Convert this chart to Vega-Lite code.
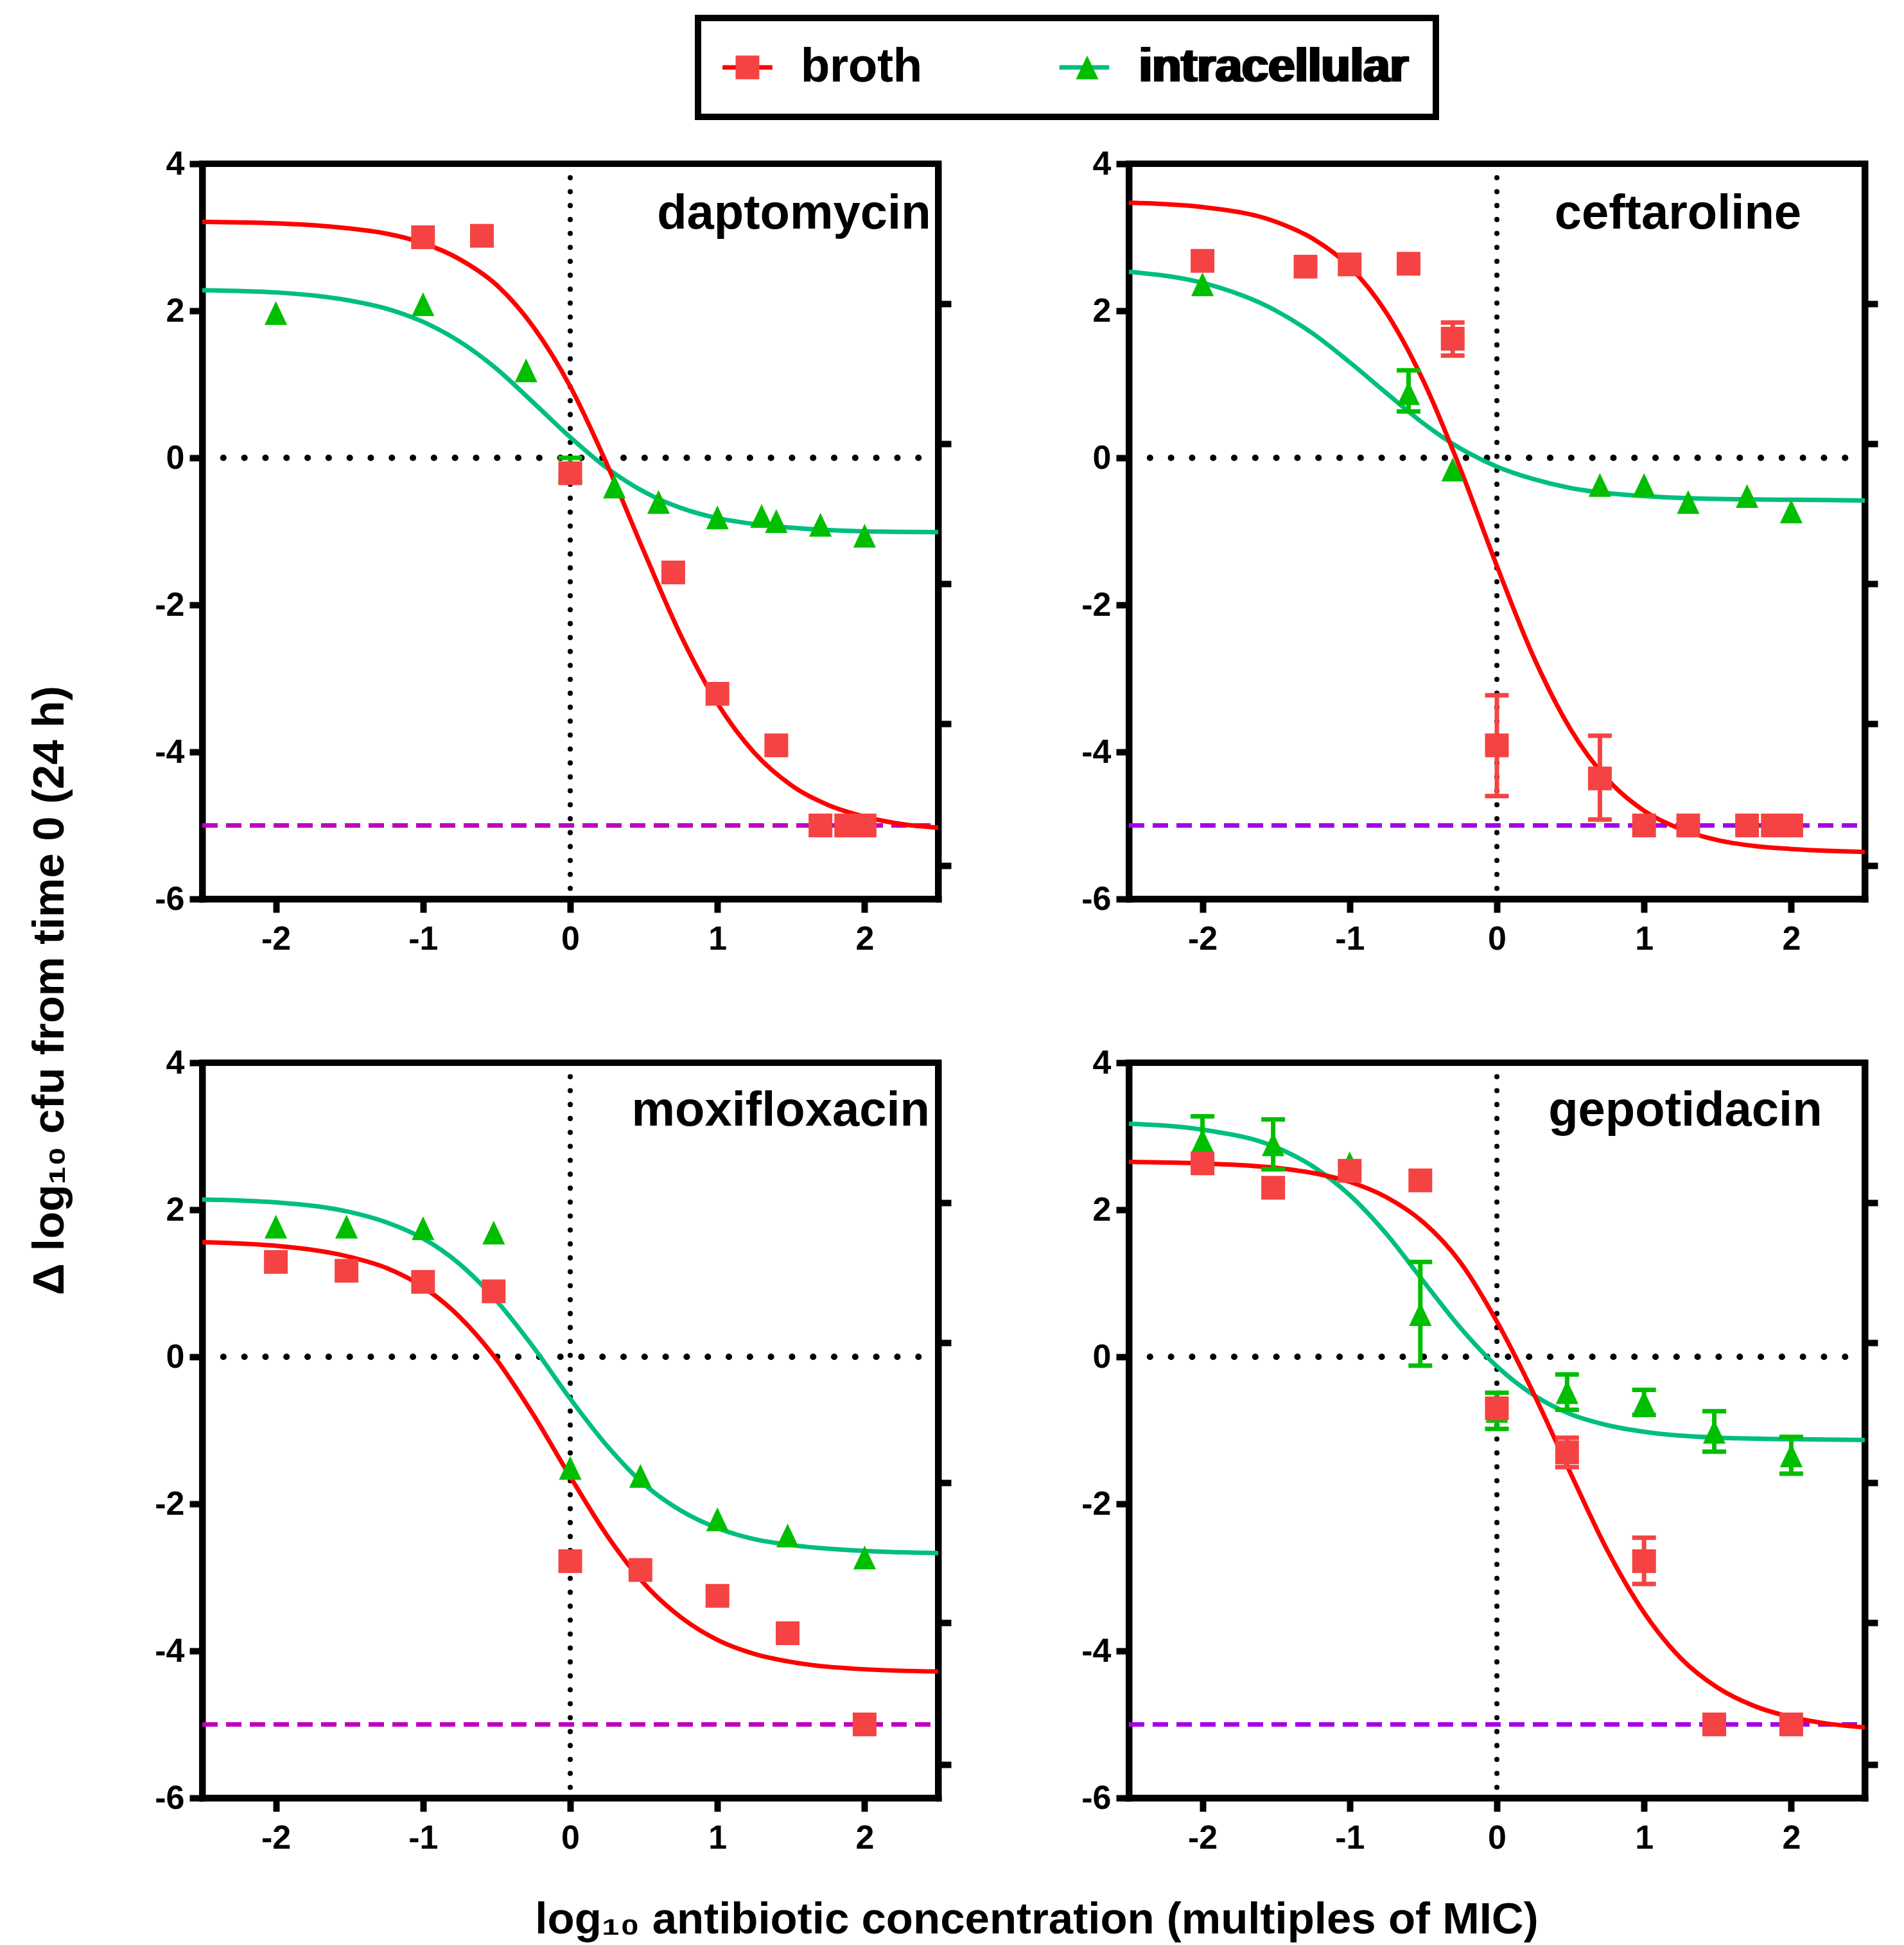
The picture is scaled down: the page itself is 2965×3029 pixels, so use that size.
{
"$schema": "https://vega.github.io/schema/vega-lite/v6.json",
"padding": {"left": 38, "top": 23, "right": 20, "bottom": 0},
"background": "white",
"datasets": {
"points": [
{"drug":"daptomycin","medium":"intracellular","x":-2,"y":1.97},
{"drug":"daptomycin","medium":"intracellular","x":-1,"y":2.09},
{"drug":"daptomycin","medium":"intracellular","x":-0.3,"y":1.19},
{"drug":"daptomycin","medium":"intracellular","x":0,"y":-0.16},
{"drug":"daptomycin","medium":"intracellular","x":0.3,"y":-0.39},
{"drug":"daptomycin","medium":"intracellular","x":0.6,"y":-0.6},
{"drug":"daptomycin","medium":"intracellular","x":1,"y":-0.81},
{"drug":"daptomycin","medium":"intracellular","x":1.3,"y":-0.79},
{"drug":"daptomycin","medium":"intracellular","x":1.4,"y":-0.86},
{"drug":"daptomycin","medium":"intracellular","x":1.7,"y":-0.91},
{"drug":"daptomycin","medium":"intracellular","x":2,"y":-1.06},
{"drug":"daptomycin","medium":"broth","x":-1,"y":3.0},
{"drug":"daptomycin","medium":"broth","x":-0.6,"y":3.02},
{"drug":"daptomycin","medium":"broth","x":0,"y":-0.21},
{"drug":"daptomycin","medium":"broth","x":0.7,"y":-1.56},
{"drug":"daptomycin","medium":"broth","x":1,"y":-3.21},
{"drug":"daptomycin","medium":"broth","x":1.4,"y":-3.91},
{"drug":"daptomycin","medium":"broth","x":1.7,"y":-5.0},
{"drug":"daptomycin","medium":"broth","x":1.875,"y":-5.0},
{"drug":"daptomycin","medium":"broth","x":2,"y":-5.0},
{"drug":"ceftaroline","medium":"intracellular","x":-2,"y":2.36},
{"drug":"ceftaroline","medium":"intracellular","x":-0.6,"y":0.88},
{"drug":"ceftaroline","medium":"intracellular","x":-0.3,"y":-0.16},
{"drug":"ceftaroline","medium":"intracellular","x":0.7,"y":-0.37},
{"drug":"ceftaroline","medium":"intracellular","x":1,"y":-0.37},
{"drug":"ceftaroline","medium":"intracellular","x":1.3,"y":-0.6},
{"drug":"ceftaroline","medium":"intracellular","x":1.7,"y":-0.52},
{"drug":"ceftaroline","medium":"intracellular","x":2,"y":-0.73},
{"drug":"ceftaroline","medium":"broth","x":-2,"y":2.68},
{"drug":"ceftaroline","medium":"broth","x":-1.3,"y":2.6},
{"drug":"ceftaroline","medium":"broth","x":-1,"y":2.63},
{"drug":"ceftaroline","medium":"broth","x":-0.6,"y":2.64},
{"drug":"ceftaroline","medium":"broth","x":-0.3,"y":1.62},
{"drug":"ceftaroline","medium":"broth","x":0,"y":-3.91},
{"drug":"ceftaroline","medium":"broth","x":0.7,"y":-4.36},
{"drug":"ceftaroline","medium":"broth","x":1,"y":-5.0},
{"drug":"ceftaroline","medium":"broth","x":1.3,"y":-5.0},
{"drug":"ceftaroline","medium":"broth","x":1.7,"y":-5.0},
{"drug":"ceftaroline","medium":"broth","x":1.875,"y":-5.0},
{"drug":"ceftaroline","medium":"broth","x":2,"y":-5.0},
{"drug":"moxifloxacin","medium":"intracellular","x":-2,"y":1.77},
{"drug":"moxifloxacin","medium":"intracellular","x":-1.52,"y":1.77},
{"drug":"moxifloxacin","medium":"intracellular","x":-1,"y":1.75},
{"drug":"moxifloxacin","medium":"intracellular","x":-0.52,"y":1.69},
{"drug":"moxifloxacin","medium":"intracellular","x":0,"y":-1.51},
{"drug":"moxifloxacin","medium":"intracellular","x":0.477,"y":-1.62},
{"drug":"moxifloxacin","medium":"intracellular","x":1,"y":-2.21},
{"drug":"moxifloxacin","medium":"intracellular","x":1.477,"y":-2.43},
{"drug":"moxifloxacin","medium":"intracellular","x":2,"y":-2.73},
{"drug":"moxifloxacin","medium":"broth","x":-2,"y":1.29},
{"drug":"moxifloxacin","medium":"broth","x":-1.52,"y":1.17},
{"drug":"moxifloxacin","medium":"broth","x":-1,"y":1.02},
{"drug":"moxifloxacin","medium":"broth","x":-0.52,"y":0.89},
{"drug":"moxifloxacin","medium":"broth","x":0,"y":-2.78},
{"drug":"moxifloxacin","medium":"broth","x":0.477,"y":-2.9},
{"drug":"moxifloxacin","medium":"broth","x":1,"y":-3.25},
{"drug":"moxifloxacin","medium":"broth","x":1.477,"y":-3.76},
{"drug":"moxifloxacin","medium":"broth","x":2,"y":-5.0},
{"drug":"gepotidacin","medium":"intracellular","x":-2,"y":2.94},
{"drug":"gepotidacin","medium":"intracellular","x":-1.52,"y":2.89},
{"drug":"gepotidacin","medium":"intracellular","x":-1,"y":2.63},
{"drug":"gepotidacin","medium":"intracellular","x":-0.52,"y":0.58},
{"drug":"gepotidacin","medium":"intracellular","x":0,"y":-0.735},
{"drug":"gepotidacin","medium":"intracellular","x":0.477,"y":-0.48},
{"drug":"gepotidacin","medium":"intracellular","x":1,"y":-0.62},
{"drug":"gepotidacin","medium":"intracellular","x":1.477,"y":-1.02},
{"drug":"gepotidacin","medium":"intracellular","x":2,"y":-1.34},
{"drug":"gepotidacin","medium":"broth","x":-2,"y":2.63},
{"drug":"gepotidacin","medium":"broth","x":-1.52,"y":2.3},
{"drug":"gepotidacin","medium":"broth","x":-1,"y":2.53},
{"drug":"gepotidacin","medium":"broth","x":-0.52,"y":2.4},
{"drug":"gepotidacin","medium":"broth","x":0,"y":-0.7},
{"drug":"gepotidacin","medium":"broth","x":0.477,"y":-1.3},
{"drug":"gepotidacin","medium":"broth","x":1,"y":-2.78},
{"drug":"gepotidacin","medium":"broth","x":1.477,"y":-5.0},
{"drug":"gepotidacin","medium":"broth","x":2,"y":-5.0}
],
"errors": [
{"drug":"daptomycin","medium":"intracellular","x":0,"lo":-0.32,"hi":0.0},
{"drug":"ceftaroline","medium":"intracellular","x":-0.6,"lo":0.63,"hi":1.19},
{"drug":"ceftaroline","medium":"broth","x":-0.3,"lo":1.39,"hi":1.84},
{"drug":"ceftaroline","medium":"broth","x":0,"lo":-4.6,"hi":-3.23},
{"drug":"ceftaroline","medium":"broth","x":0.7,"lo":-4.92,"hi":-3.78},
{"drug":"gepotidacin","medium":"intracellular","x":-2,"lo":2.61,"hi":3.27},
{"drug":"gepotidacin","medium":"intracellular","x":-1.52,"lo":2.55,"hi":3.23},
{"drug":"gepotidacin","medium":"intracellular","x":-0.52,"lo":-0.12,"hi":1.29},
{"drug":"gepotidacin","medium":"intracellular","x":0,"lo":-0.98,"hi":-0.49},
{"drug":"gepotidacin","medium":"intracellular","x":0.477,"lo":-0.72,"hi":-0.24},
{"drug":"gepotidacin","medium":"intracellular","x":1,"lo":-0.79,"hi":-0.45},
{"drug":"gepotidacin","medium":"intracellular","x":1.477,"lo":-1.29,"hi":-0.74},
{"drug":"gepotidacin","medium":"intracellular","x":2,"lo":-1.59,"hi":-1.09},
{"drug":"gepotidacin","medium":"broth","x":0.477,"lo":-1.5,"hi":-1.1},
{"drug":"gepotidacin","medium":"broth","x":1,"lo":-3.09,"hi":-2.46}
],
"curves": [
{"drug":"daptomycin","medium":"intracellular","x":-2.5,"y":2.28},
{"drug":"daptomycin","medium":"intracellular","x":-2,"y":2.25},
{"drug":"daptomycin","medium":"intracellular","x":-1.5,"y":2.14},
{"drug":"daptomycin","medium":"intracellular","x":-1.25,"y":2.03},
{"drug":"daptomycin","medium":"intracellular","x":-1,"y":1.85},
{"drug":"daptomycin","medium":"intracellular","x":-0.75,"y":1.58},
{"drug":"daptomycin","medium":"intracellular","x":-0.5,"y":1.21},
{"drug":"daptomycin","medium":"intracellular","x":-0.25,"y":0.75},
{"drug":"daptomycin","medium":"intracellular","x":0,"y":0.28},
{"drug":"daptomycin","medium":"intracellular","x":0.25,"y":-0.14},
{"drug":"daptomycin","medium":"intracellular","x":0.5,"y":-0.46},
{"drug":"daptomycin","medium":"intracellular","x":0.75,"y":-0.68},
{"drug":"daptomycin","medium":"intracellular","x":1,"y":-0.82},
{"drug":"daptomycin","medium":"intracellular","x":1.25,"y":-0.9},
{"drug":"daptomycin","medium":"intracellular","x":1.5,"y":-0.95},
{"drug":"daptomycin","medium":"intracellular","x":2,"y":-1.0},
{"drug":"daptomycin","medium":"intracellular","x":2.5,"y":-1.01},
{"drug":"daptomycin","medium":"broth","x":-2.5,"y":3.21},
{"drug":"daptomycin","medium":"broth","x":-2,"y":3.19},
{"drug":"daptomycin","medium":"broth","x":-1.5,"y":3.12},
{"drug":"daptomycin","medium":"broth","x":-1.25,"y":3.05},
{"drug":"daptomycin","medium":"broth","x":-1,"y":2.92},
{"drug":"daptomycin","medium":"broth","x":-0.75,"y":2.7},
{"drug":"daptomycin","medium":"broth","x":-0.5,"y":2.35},
{"drug":"daptomycin","medium":"broth","x":-0.25,"y":1.78},
{"drug":"daptomycin","medium":"broth","x":0,"y":0.97},
{"drug":"daptomycin","medium":"broth","x":0.25,"y":-0.09},
{"drug":"daptomycin","medium":"broth","x":0.5,"y":-1.27},
{"drug":"daptomycin","medium":"broth","x":0.75,"y":-2.41},
{"drug":"daptomycin","medium":"broth","x":1,"y":-3.34},
{"drug":"daptomycin","medium":"broth","x":1.25,"y":-4.01},
{"drug":"daptomycin","medium":"broth","x":1.5,"y":-4.45},
{"drug":"daptomycin","medium":"broth","x":1.75,"y":-4.72},
{"drug":"daptomycin","medium":"broth","x":2,"y":-4.88},
{"drug":"daptomycin","medium":"broth","x":2.25,"y":-4.98},
{"drug":"daptomycin","medium":"broth","x":2.5,"y":-5.03},
{"drug":"ceftaroline","medium":"intracellular","x":-2.5,"y":2.53},
{"drug":"ceftaroline","medium":"intracellular","x":-2,"y":2.38},
{"drug":"ceftaroline","medium":"intracellular","x":-1.5,"y":2.0},
{"drug":"ceftaroline","medium":"intracellular","x":-1.25,"y":1.69},
{"drug":"ceftaroline","medium":"intracellular","x":-1,"y":1.3},
{"drug":"ceftaroline","medium":"intracellular","x":-0.75,"y":0.88},
{"drug":"ceftaroline","medium":"intracellular","x":-0.5,"y":0.47},
{"drug":"ceftaroline","medium":"intracellular","x":-0.25,"y":0.13},
{"drug":"ceftaroline","medium":"intracellular","x":0,"y":-0.12},
{"drug":"ceftaroline","medium":"intracellular","x":0.25,"y":-0.29},
{"drug":"ceftaroline","medium":"intracellular","x":0.5,"y":-0.41},
{"drug":"ceftaroline","medium":"intracellular","x":0.75,"y":-0.48},
{"drug":"ceftaroline","medium":"intracellular","x":1,"y":-0.52},
{"drug":"ceftaroline","medium":"intracellular","x":1.5,"y":-0.56},
{"drug":"ceftaroline","medium":"intracellular","x":2,"y":-0.57},
{"drug":"ceftaroline","medium":"intracellular","x":2.5,"y":-0.58},
{"drug":"ceftaroline","medium":"broth","x":-2.5,"y":3.47},
{"drug":"ceftaroline","medium":"broth","x":-2,"y":3.41},
{"drug":"ceftaroline","medium":"broth","x":-1.5,"y":3.21},
{"drug":"ceftaroline","medium":"broth","x":-1.25,"y":2.98},
{"drug":"ceftaroline","medium":"broth","x":-1,"y":2.6},
{"drug":"ceftaroline","medium":"broth","x":-0.75,"y":1.97},
{"drug":"ceftaroline","medium":"broth","x":-0.5,"y":1.05},
{"drug":"ceftaroline","medium":"broth","x":-0.25,"y":-0.14},
{"drug":"ceftaroline","medium":"broth","x":0,"y":-1.47},
{"drug":"ceftaroline","medium":"broth","x":0.25,"y":-2.71},
{"drug":"ceftaroline","medium":"broth","x":0.5,"y":-3.69},
{"drug":"ceftaroline","medium":"broth","x":0.75,"y":-4.37},
{"drug":"ceftaroline","medium":"broth","x":1,"y":-4.8},
{"drug":"ceftaroline","medium":"broth","x":1.25,"y":-5.05},
{"drug":"ceftaroline","medium":"broth","x":1.5,"y":-5.2},
{"drug":"ceftaroline","medium":"broth","x":1.75,"y":-5.28},
{"drug":"ceftaroline","medium":"broth","x":2,"y":-5.32},
{"drug":"ceftaroline","medium":"broth","x":2.5,"y":-5.36},
{"drug":"moxifloxacin","medium":"intracellular","x":-2.5,"y":2.14},
{"drug":"moxifloxacin","medium":"intracellular","x":-2,"y":2.1},
{"drug":"moxifloxacin","medium":"intracellular","x":-1.5,"y":1.97},
{"drug":"moxifloxacin","medium":"intracellular","x":-1.25,"y":1.83},
{"drug":"moxifloxacin","medium":"intracellular","x":-1,"y":1.61},
{"drug":"moxifloxacin","medium":"intracellular","x":-0.75,"y":1.26},
{"drug":"moxifloxacin","medium":"intracellular","x":-0.5,"y":0.76},
{"drug":"moxifloxacin","medium":"intracellular","x":-0.25,"y":0.13},
{"drug":"moxifloxacin","medium":"intracellular","x":0,"y":-0.57},
{"drug":"moxifloxacin","medium":"intracellular","x":0.25,"y":-1.21},
{"drug":"moxifloxacin","medium":"intracellular","x":0.5,"y":-1.73},
{"drug":"moxifloxacin","medium":"intracellular","x":0.75,"y":-2.09},
{"drug":"moxifloxacin","medium":"intracellular","x":1,"y":-2.33},
{"drug":"moxifloxacin","medium":"intracellular","x":1.25,"y":-2.48},
{"drug":"moxifloxacin","medium":"intracellular","x":1.5,"y":-2.56},
{"drug":"moxifloxacin","medium":"intracellular","x":2,"y":-2.64},
{"drug":"moxifloxacin","medium":"intracellular","x":2.5,"y":-2.67},
{"drug":"moxifloxacin","medium":"broth","x":-2.5,"y":1.56},
{"drug":"moxifloxacin","medium":"broth","x":-2,"y":1.51},
{"drug":"moxifloxacin","medium":"broth","x":-1.5,"y":1.36},
{"drug":"moxifloxacin","medium":"broth","x":-1.25,"y":1.21},
{"drug":"moxifloxacin","medium":"broth","x":-1,"y":0.95},
{"drug":"moxifloxacin","medium":"broth","x":-0.75,"y":0.54},
{"drug":"moxifloxacin","medium":"broth","x":-0.5,"y":-0.04},
{"drug":"moxifloxacin","medium":"broth","x":-0.25,"y":-0.79},
{"drug":"moxifloxacin","medium":"broth","x":0,"y":-1.63},
{"drug":"moxifloxacin","medium":"broth","x":0.25,"y":-2.43},
{"drug":"moxifloxacin","medium":"broth","x":0.5,"y":-3.08},
{"drug":"moxifloxacin","medium":"broth","x":0.75,"y":-3.54},
{"drug":"moxifloxacin","medium":"broth","x":1,"y":-3.85},
{"drug":"moxifloxacin","medium":"broth","x":1.25,"y":-4.04},
{"drug":"moxifloxacin","medium":"broth","x":1.5,"y":-4.15},
{"drug":"moxifloxacin","medium":"broth","x":2,"y":-4.25},
{"drug":"moxifloxacin","medium":"broth","x":2.5,"y":-4.28},
{"drug":"gepotidacin","medium":"intracellular","x":-2.5,"y":3.17},
{"drug":"gepotidacin","medium":"intracellular","x":-2,"y":3.09},
{"drug":"gepotidacin","medium":"intracellular","x":-1.5,"y":2.85},
{"drug":"gepotidacin","medium":"intracellular","x":-1.25,"y":2.59},
{"drug":"gepotidacin","medium":"intracellular","x":-1,"y":2.2},
{"drug":"gepotidacin","medium":"intracellular","x":-0.75,"y":1.67},
{"drug":"gepotidacin","medium":"intracellular","x":-0.5,"y":1.03},
{"drug":"gepotidacin","medium":"intracellular","x":-0.25,"y":0.4},
{"drug":"gepotidacin","medium":"intracellular","x":0,"y":-0.13},
{"drug":"gepotidacin","medium":"intracellular","x":0.25,"y":-0.52},
{"drug":"gepotidacin","medium":"intracellular","x":0.5,"y":-0.78},
{"drug":"gepotidacin","medium":"intracellular","x":0.75,"y":-0.93},
{"drug":"gepotidacin","medium":"intracellular","x":1,"y":-1.02},
{"drug":"gepotidacin","medium":"intracellular","x":1.5,"y":-1.1},
{"drug":"gepotidacin","medium":"intracellular","x":2,"y":-1.12},
{"drug":"gepotidacin","medium":"intracellular","x":2.5,"y":-1.13},
{"drug":"gepotidacin","medium":"broth","x":-2.5,"y":2.65},
{"drug":"gepotidacin","medium":"broth","x":-2,"y":2.63},
{"drug":"gepotidacin","medium":"broth","x":-1.5,"y":2.57},
{"drug":"gepotidacin","medium":"broth","x":-1.25,"y":2.5},
{"drug":"gepotidacin","medium":"broth","x":-1,"y":2.38},
{"drug":"gepotidacin","medium":"broth","x":-0.75,"y":2.17},
{"drug":"gepotidacin","medium":"broth","x":-0.5,"y":1.83},
{"drug":"gepotidacin","medium":"broth","x":-0.25,"y":1.29},
{"drug":"gepotidacin","medium":"broth","x":0,"y":0.48},
{"drug":"gepotidacin","medium":"broth","x":0.25,"y":-0.5},
{"drug":"gepotidacin","medium":"broth","x":0.5,"y":-1.58},
{"drug":"gepotidacin","medium":"broth","x":0.75,"y":-2.63},
{"drug":"gepotidacin","medium":"broth","x":1,"y":-3.48},
{"drug":"gepotidacin","medium":"broth","x":1.25,"y":-4.1},
{"drug":"gepotidacin","medium":"broth","x":1.5,"y":-4.5},
{"drug":"gepotidacin","medium":"broth","x":1.75,"y":-4.75},
{"drug":"gepotidacin","medium":"broth","x":2,"y":-4.9},
{"drug":"gepotidacin","medium":"broth","x":2.25,"y":-4.99},
{"drug":"gepotidacin","medium":"broth","x":2.5,"y":-5.04}
]
},
"columns": 2,
"spacing": {"row": 255, "column": 297},
"bounds": "flush",
"concat": [
{
"width": 1146, "height": 1145,
"resolve": {"axis": {"y": "independent"}},
"layer": [
{"data": {"values": [{}]}, "mark": {"type": "rule", "color": "black", "strokeWidth": 8, "strokeDash": [0.1, 21.6], "strokeCap": "round"},
 "encoding": {"x": {"datum": 0, "type": "quantitative", "scale": {"domain": [-2.5, 2.5], "nice": false, "zero": false}, "axis": {"values": [-2,-1,0,1,2], "labelExpr": "toString(datum.value)", "title": null}},
  "y": {"datum": 4, "type": "quantitative", "scale": {"domain": [-6, 4], "nice": false, "zero": false}, "axis": null}, "y2": {"datum": -6}}},
{"data": {"values": [{}]}, "mark": {"type": "rule", "color": "black", "strokeWidth": 10, "strokeDash": [0.1, 32.7], "strokeCap": "round"},
 "encoding": {"y": {"datum": 0, "type": "quantitative", "scale": {"domain": [-6, 4], "nice": false, "zero": false}, "axis": {"values": [4,2,0,-2,-4,-6], "labelExpr": "toString(datum.value)", "title": "Δ log₁₀ cfu from time 0 (24 h)", "titleX": -217, "titleY": 1287, "titleAngle": 270, "titleAlign": "center", "titleBaseline": "alphabetic"}},
  "x": {"datum": -2.5, "type": "quantitative"}, "x2": {"datum": 2.5}}},
{"data": {"values": [{}]}, "mark": {"type": "rule", "color": "#bf00bf", "strokeWidth": 7, "strokeDash": [24, 13]},
 "encoding": {"y": {"datum": -5, "type": "quantitative", "scale": {"domain": [-6, 4], "nice": false, "zero": false}, "axis": {"orient": "right", "values": [2.1, 0.19, -1.71, -3.62, -5.55], "labels": false, "title": null}},
  "x": {"datum": -2.5, "type": "quantitative"}, "x2": {"datum": 2.5}}},
{"data": {"name": "curves"}, "transform": [{"filter": "datum.drug === 'daptomycin'"}], "mark": {"type": "line", "interpolate": "monotone", "strokeWidth": 7},
 "encoding": {"x": {"field": "x", "type": "quantitative", "scale": {"domain": [-2.5, 2.5], "nice": false, "zero": false}}, "y": {"field": "y", "type": "quantitative", "scale": {"domain": [-6, 4], "nice": false, "zero": false}, "axis": null},
  "stroke": {"field": "medium", "type": "nominal", "scale": {"domain": ["intracellular", "broth"], "range": ["#00be7d", "#ff0000"]},
   "legend": {"title": null, "orient": "none", "legendX": 772, "legendY": -227, "direction": "horizontal", "values": ["broth", "intracellular"], "symbolType": "M-2.1,0H2.1", "symbolSize": 1369, "symbolStrokeWidth": 7, "symbolOpacity": 1, "labelFont": "Liberation Sans", "labelFontSize": 74, "labelFontWeight": "bold", "labelColor": "black", "labelLimit": 800, "labelOffset": 46, "columnPadding": 198.5, "padding": 40}}}},
{"data": {"name": "errors"}, "transform": [{"filter": "datum.drug === 'daptomycin'"}], "mark": {"type": "rule", "strokeWidth": 7},
 "encoding": {"x": {"field": "x", "type": "quantitative"}, "y": {"field": "lo", "type": "quantitative", "axis": null}, "y2": {"field": "hi"}, "color": {"field": "medium", "type": "nominal", "scale": {"domain": ["broth", "intracellular"], "range": ["#f54343", "#00be00"]}}}},
{"data": {"name": "errors"}, "transform": [{"filter": "datum.drug === 'daptomycin'"}], "mark": {"type": "tick", "orient": "horizontal", "size": 37, "thickness": 7, "opacity": 1},
 "encoding": {"x": {"field": "x", "type": "quantitative"}, "y": {"field": "lo", "type": "quantitative", "axis": null}, "color": {"field": "medium", "type": "nominal"}}},
{"data": {"name": "errors"}, "transform": [{"filter": "datum.drug === 'daptomycin'"}], "mark": {"type": "tick", "orient": "horizontal", "size": 37, "thickness": 7, "opacity": 1},
 "encoding": {"x": {"field": "x", "type": "quantitative"}, "y": {"field": "hi", "type": "quantitative", "axis": null}, "color": {"field": "medium", "type": "nominal"}}},
{"data": {"name": "points"}, "transform": [{"filter": "datum.drug === 'daptomycin'"}], "mark": {"type": "point", "filled": true, "size": 1369, "opacity": 1, "strokeWidth": 0},
 "encoding": {"x": {"field": "x", "type": "quantitative"}, "y": {"field": "y", "type": "quantitative", "axis": null},
  "color": {"field": "medium", "type": "nominal", "scale": {"domain": ["broth", "intracellular"], "range": ["#f54343", "#00be00"]},
   "legend": {"title": null, "orient": "none", "legendX": 772, "legendY": -227, "direction": "horizontal", "symbolSize": 1369, "symbolStrokeWidth": 0, "symbolOpacity": 1, "labelFont": "Liberation Sans", "labelFontSize": 74, "labelFontWeight": "bold", "labelColor": "black", "labelLimit": 800, "labelOffset": 46, "columnPadding": 219, "padding": 40, "strokeColor": "black",
    "encode": {"legend": {"update": {"strokeWidth": {"value": 10}}}}}},
  "shape": {"field": "medium", "type": "nominal", "scale": {"domain": ["broth", "intracellular"], "range": ["square", "M0,-1L0.95,1H-0.95Z"]},
   "legend": {"title": null, "orient": "none", "legendX": 772, "legendY": -227, "direction": "horizontal", "symbolSize": 1369, "symbolStrokeWidth": 0, "symbolOpacity": 1, "labelFont": "Liberation Sans", "labelFontSize": 74, "labelFontWeight": "bold", "labelColor": "black", "labelLimit": 800, "labelOffset": 46, "columnPadding": 219, "padding": 40, "strokeColor": "black",
    "encode": {"legend": {"update": {"strokeWidth": {"value": 10}}}}}}}},
{"data": {"values": [{}]}, "mark": {"type": "text", "text": "daptomycin", "fontSize": 76, "fontWeight": "bold", "align": "center", "baseline": "alphabetic", "color": "black"},
 "encoding": {"x": {"datum": 1.52, "type": "quantitative"}, "y": {"datum": 3.12, "type": "quantitative", "axis": null}}}
]
},
{
"width": 1146, "height": 1145,
"resolve": {"axis": {"y": "independent"}},
"layer": [
{"data": {"values": [{}]}, "mark": {"type": "rule", "color": "black", "strokeWidth": 8, "strokeDash": [0.1, 21.6], "strokeCap": "round"},
 "encoding": {"x": {"datum": 0, "type": "quantitative", "scale": {"domain": [-2.5, 2.5], "nice": false, "zero": false}, "axis": {"values": [-2,-1,0,1,2], "labelExpr": "toString(datum.value)", "title": null}},
  "y": {"datum": 4, "type": "quantitative", "scale": {"domain": [-6, 4], "nice": false, "zero": false}, "axis": null}, "y2": {"datum": -6}}},
{"data": {"values": [{}]}, "mark": {"type": "rule", "color": "black", "strokeWidth": 10, "strokeDash": [0.1, 32.7], "strokeCap": "round"},
 "encoding": {"y": {"datum": 0, "type": "quantitative", "scale": {"domain": [-6, 4], "nice": false, "zero": false}, "axis": {"values": [4,2,0,-2,-4,-6], "labelExpr": "toString(datum.value)", "title": null}},
  "x": {"datum": -2.5, "type": "quantitative"}, "x2": {"datum": 2.5}}},
{"data": {"values": [{}]}, "mark": {"type": "rule", "color": "#a600e6", "strokeWidth": 7, "strokeDash": [24, 13]},
 "encoding": {"y": {"datum": -5, "type": "quantitative", "scale": {"domain": [-6, 4], "nice": false, "zero": false}, "axis": {"orient": "right", "values": [2.1, 0.19, -1.71, -3.62, -5.55], "labels": false, "title": null}},
  "x": {"datum": -2.5, "type": "quantitative"}, "x2": {"datum": 2.5}}},
{"data": {"name": "curves"}, "transform": [{"filter": "datum.drug === 'ceftaroline'"}], "mark": {"type": "line", "interpolate": "monotone", "strokeWidth": 7},
 "encoding": {"x": {"field": "x", "type": "quantitative", "scale": {"domain": [-2.5, 2.5], "nice": false, "zero": false}}, "y": {"field": "y", "type": "quantitative", "scale": {"domain": [-6, 4], "nice": false, "zero": false}, "axis": null}, "stroke": {"field": "medium", "type": "nominal", "scale": {"domain": ["intracellular", "broth"], "range": ["#00be7d", "#ff0000"]}}}},
{"data": {"name": "errors"}, "transform": [{"filter": "datum.drug === 'ceftaroline'"}], "mark": {"type": "rule", "strokeWidth": 7},
 "encoding": {"x": {"field": "x", "type": "quantitative"}, "y": {"field": "lo", "type": "quantitative", "axis": null}, "y2": {"field": "hi"}, "color": {"field": "medium", "type": "nominal"}}},
{"data": {"name": "errors"}, "transform": [{"filter": "datum.drug === 'ceftaroline'"}], "mark": {"type": "tick", "orient": "horizontal", "size": 37, "thickness": 7, "opacity": 1},
 "encoding": {"x": {"field": "x", "type": "quantitative"}, "y": {"field": "lo", "type": "quantitative", "axis": null}, "color": {"field": "medium", "type": "nominal"}}},
{"data": {"name": "errors"}, "transform": [{"filter": "datum.drug === 'ceftaroline'"}], "mark": {"type": "tick", "orient": "horizontal", "size": 37, "thickness": 7, "opacity": 1},
 "encoding": {"x": {"field": "x", "type": "quantitative"}, "y": {"field": "hi", "type": "quantitative", "axis": null}, "color": {"field": "medium", "type": "nominal"}}},
{"data": {"name": "points"}, "transform": [{"filter": "datum.drug === 'ceftaroline'"}], "mark": {"type": "point", "filled": true, "size": 1369, "opacity": 1, "strokeWidth": 0},
 "encoding": {"x": {"field": "x", "type": "quantitative"}, "y": {"field": "y", "type": "quantitative", "axis": null},
  "color": {"field": "medium", "type": "nominal"},
  "shape": {"field": "medium", "type": "nominal"}}},
{"data": {"values": [{}]}, "mark": {"type": "text", "text": "ceftaroline", "fontSize": 76, "fontWeight": "bold", "align": "center", "baseline": "alphabetic", "color": "black"},
 "encoding": {"x": {"datum": 1.23, "type": "quantitative"}, "y": {"datum": 3.12, "type": "quantitative", "axis": null}}}
]
},
{
"width": 1146, "height": 1145,
"resolve": {"axis": {"y": "independent"}},
"layer": [
{"data": {"values": [{}]}, "mark": {"type": "rule", "color": "black", "strokeWidth": 8, "strokeDash": [0.1, 21.6], "strokeCap": "round"},
 "encoding": {"x": {"datum": 0, "type": "quantitative", "scale": {"domain": [-2.5, 2.5], "nice": false, "zero": false}, "axis": {"values": [-2,-1,0,1,2], "labelExpr": "toString(datum.value)", "title": "log₁₀ antibiotic concentration (multiples of MIC)", "titleX": 1299, "titleY": 210, "titleAlign": "center", "titleBaseline": "alphabetic", "titleAngle": 0}},
  "y": {"datum": 4, "type": "quantitative", "scale": {"domain": [-6, 4], "nice": false, "zero": false}, "axis": null}, "y2": {"datum": -6}}},
{"data": {"values": [{}]}, "mark": {"type": "rule", "color": "black", "strokeWidth": 10, "strokeDash": [0.1, 32.7], "strokeCap": "round"},
 "encoding": {"y": {"datum": 0, "type": "quantitative", "scale": {"domain": [-6, 4], "nice": false, "zero": false}, "axis": {"values": [4,2,0,-2,-4,-6], "labelExpr": "toString(datum.value)", "title": null}},
  "x": {"datum": -2.5, "type": "quantitative"}, "x2": {"datum": 2.5}}},
{"data": {"values": [{}]}, "mark": {"type": "rule", "color": "#bf00bf", "strokeWidth": 7, "strokeDash": [24, 13]},
 "encoding": {"y": {"datum": -5, "type": "quantitative", "scale": {"domain": [-6, 4], "nice": false, "zero": false}, "axis": {"orient": "right", "values": [2.1, 0.19, -1.71, -3.62, -5.55], "labels": false, "title": null}},
  "x": {"datum": -2.5, "type": "quantitative"}, "x2": {"datum": 2.5}}},
{"data": {"name": "curves"}, "transform": [{"filter": "datum.drug === 'moxifloxacin'"}], "mark": {"type": "line", "interpolate": "monotone", "strokeWidth": 7},
 "encoding": {"x": {"field": "x", "type": "quantitative", "scale": {"domain": [-2.5, 2.5], "nice": false, "zero": false}}, "y": {"field": "y", "type": "quantitative", "scale": {"domain": [-6, 4], "nice": false, "zero": false}, "axis": null}, "stroke": {"field": "medium", "type": "nominal", "scale": {"domain": ["intracellular", "broth"], "range": ["#00be7d", "#ff0000"]}}}},
{"data": {"name": "points"}, "transform": [{"filter": "datum.drug === 'moxifloxacin'"}], "mark": {"type": "point", "filled": true, "size": 1369, "opacity": 1, "strokeWidth": 0},
 "encoding": {"x": {"field": "x", "type": "quantitative"}, "y": {"field": "y", "type": "quantitative", "axis": null},
  "color": {"field": "medium", "type": "nominal"},
  "shape": {"field": "medium", "type": "nominal"}}},
{"data": {"values": [{}]}, "mark": {"type": "text", "text": "moxifloxacin", "fontSize": 76, "fontWeight": "bold", "align": "center", "baseline": "alphabetic", "color": "black"},
 "encoding": {"x": {"datum": 1.43, "type": "quantitative"}, "y": {"datum": 3.14, "type": "quantitative", "axis": null}}}
]
},
{
"width": 1146, "height": 1145,
"resolve": {"axis": {"y": "independent"}},
"layer": [
{"data": {"values": [{}]}, "mark": {"type": "rule", "color": "black", "strokeWidth": 8, "strokeDash": [0.1, 21.6], "strokeCap": "round"},
 "encoding": {"x": {"datum": 0, "type": "quantitative", "scale": {"domain": [-2.5, 2.5], "nice": false, "zero": false}, "axis": {"values": [-2,-1,0,1,2], "labelExpr": "toString(datum.value)", "title": null}},
  "y": {"datum": 4, "type": "quantitative", "scale": {"domain": [-6, 4], "nice": false, "zero": false}, "axis": null}, "y2": {"datum": -6}}},
{"data": {"values": [{}]}, "mark": {"type": "rule", "color": "black", "strokeWidth": 10, "strokeDash": [0.1, 32.7], "strokeCap": "round"},
 "encoding": {"y": {"datum": 0, "type": "quantitative", "scale": {"domain": [-6, 4], "nice": false, "zero": false}, "axis": {"values": [4,2,0,-2,-4,-6], "labelExpr": "toString(datum.value)", "title": null}},
  "x": {"datum": -2.5, "type": "quantitative"}, "x2": {"datum": 2.5}}},
{"data": {"values": [{}]}, "mark": {"type": "rule", "color": "#a600e6", "strokeWidth": 7, "strokeDash": [24, 13]},
 "encoding": {"y": {"datum": -5, "type": "quantitative", "scale": {"domain": [-6, 4], "nice": false, "zero": false}, "axis": {"orient": "right", "values": [2.1, 0.19, -1.71, -3.62, -5.55], "labels": false, "title": null}},
  "x": {"datum": -2.5, "type": "quantitative"}, "x2": {"datum": 2.5}}},
{"data": {"name": "curves"}, "transform": [{"filter": "datum.drug === 'gepotidacin'"}], "mark": {"type": "line", "interpolate": "monotone", "strokeWidth": 7},
 "encoding": {"x": {"field": "x", "type": "quantitative", "scale": {"domain": [-2.5, 2.5], "nice": false, "zero": false}}, "y": {"field": "y", "type": "quantitative", "scale": {"domain": [-6, 4], "nice": false, "zero": false}, "axis": null}, "stroke": {"field": "medium", "type": "nominal", "scale": {"domain": ["intracellular", "broth"], "range": ["#00be7d", "#ff0000"]}}}},
{"data": {"name": "errors"}, "transform": [{"filter": "datum.drug === 'gepotidacin'"}], "mark": {"type": "rule", "strokeWidth": 7},
 "encoding": {"x": {"field": "x", "type": "quantitative"}, "y": {"field": "lo", "type": "quantitative", "axis": null}, "y2": {"field": "hi"}, "color": {"field": "medium", "type": "nominal"}}},
{"data": {"name": "errors"}, "transform": [{"filter": "datum.drug === 'gepotidacin'"}], "mark": {"type": "tick", "orient": "horizontal", "size": 37, "thickness": 7, "opacity": 1},
 "encoding": {"x": {"field": "x", "type": "quantitative"}, "y": {"field": "lo", "type": "quantitative", "axis": null}, "color": {"field": "medium", "type": "nominal"}}},
{"data": {"name": "errors"}, "transform": [{"filter": "datum.drug === 'gepotidacin'"}], "mark": {"type": "tick", "orient": "horizontal", "size": 37, "thickness": 7, "opacity": 1},
 "encoding": {"x": {"field": "x", "type": "quantitative"}, "y": {"field": "hi", "type": "quantitative", "axis": null}, "color": {"field": "medium", "type": "nominal"}}},
{"data": {"name": "points"}, "transform": [{"filter": "datum.drug === 'gepotidacin'"}], "mark": {"type": "point", "filled": true, "size": 1369, "opacity": 1, "strokeWidth": 0},
 "encoding": {"x": {"field": "x", "type": "quantitative"}, "y": {"field": "y", "type": "quantitative", "axis": null},
  "color": {"field": "medium", "type": "nominal"},
  "shape": {"field": "medium", "type": "nominal"}}},
{"data": {"values": [{}]}, "mark": {"type": "text", "text": "gepotidacin", "fontSize": 76, "fontWeight": "bold", "align": "center", "baseline": "alphabetic", "color": "black"},
 "encoding": {"x": {"datum": 1.28, "type": "quantitative"}, "y": {"datum": 3.14, "type": "quantitative", "axis": null}}}
]
}
],
"config": {
 "font": "Liberation Sans",
 "view": {"stroke": "black", "strokeWidth": 10},
 "axis": {"grid": false, "domainColor": "black", "domainWidth": 10, "domainCap": "square", "tickColor": "black", "tickWidth": 10, "tickSize": 20, "labelFont": "Liberation Sans", "labelFontSize": 52, "labelFontWeight": "bold", "labelColor": "black", "labelFlush": false, "labelOverlap": false, "titleFont": "Liberation Sans", "titleFontSize": 69, "titleFontWeight": "bold", "titleColor": "black", "zindex": 1},
 "axisX": {"labelPadding": 16, "tickSize": 21},
 "axisY": {"labelPadding": 8}
}
}
